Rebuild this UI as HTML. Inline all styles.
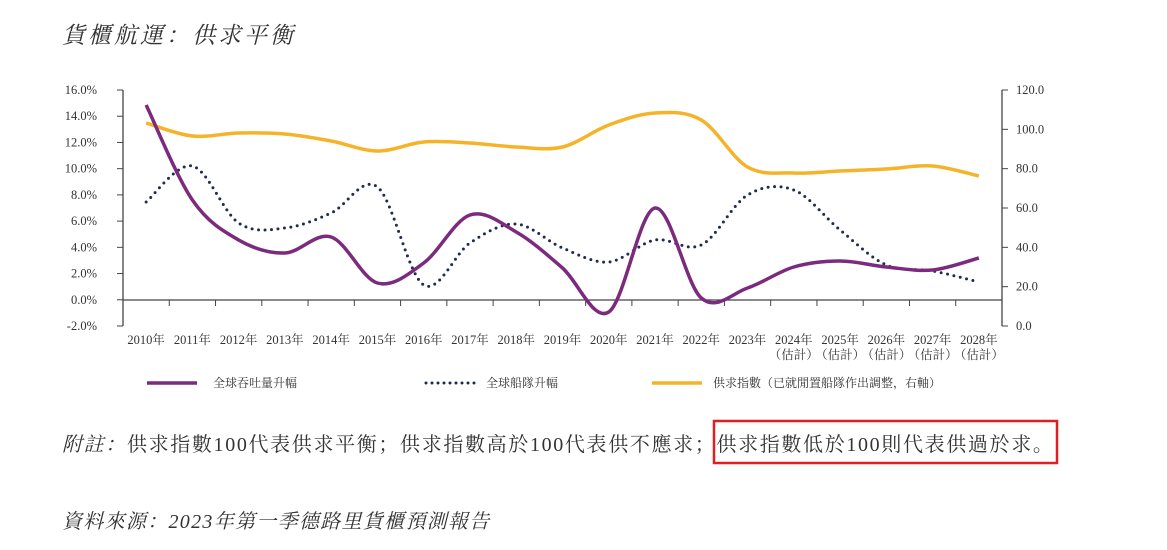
<!DOCTYPE html>
<html><head><meta charset="utf-8"><style>
html,body{margin:0;padding:0;background:#fff;}
body{width:1167px;height:550px;position:relative;overflow:hidden;font-family:"Liberation Serif","Noto Serif CJK SC",serif;color:#333;}
.t{position:absolute;white-space:nowrap;}
</style></head><body>
<div class="t" style="left:62px;top:17px;font-size:23px;letter-spacing:3px;font-style:italic;color:#333;">貨櫃航運：供求平衡</div>
<svg width="1167" height="550" style="position:absolute;left:0;top:0" xmlns="http://www.w3.org/2000/svg">
<g font-family="Liberation Serif, Noto Serif CJK SC, serif" font-size="12.5" fill="#333">
<line x1="123" y1="90" x2="123" y2="326" stroke="#444" stroke-width="1.3"/>
<line x1="1002" y1="90" x2="1002" y2="326" stroke="#444" stroke-width="1.3"/>
<line x1="123" y1="300" x2="1002" y2="300" stroke="#444" stroke-width="1.3"/>
<g id="ticks"></g>
<g id="lab"></g>
<path id="py" fill="none" stroke="#f5b32a" stroke-width="3.5"/>
<path id="pd" fill="none" stroke="#1d2b4f" stroke-width="3" stroke-dasharray="0 6.5" stroke-linecap="round"/>
<path id="pp" fill="none" stroke="#7b2a7e" stroke-width="3.5"/>
<line x1="147" y1="383" x2="197" y2="383" stroke="#7b2a7e" stroke-width="3.5"/>
<text x="213" y="387" font-size="12">全球吞吐量升幅</text>
<line x1="426" y1="383" x2="476" y2="383" stroke="#1d2b4f" stroke-width="3" stroke-dasharray="0 6" stroke-linecap="round"/>
<text x="486" y="387" font-size="12">全球船隊升幅</text>
<line x1="652" y1="383" x2="702" y2="383" stroke="#f5b32a" stroke-width="3.5"/>
<text x="713" y="387" font-size="12">供求指數（已就閒置船隊作出調整，右軸）</text>
</g>
<rect x="714" y="421" width="343" height="42" fill="none" stroke="#e02020" stroke-width="2.5"/>
</svg>
<div class="t" style="left:62px;top:428px;font-size:20px;letter-spacing:1.65px;color:#333;"><i>附註：</i>供求指數100代表供求平衡；供求指數高於100代表供不應求；供求指數低於100則代表供過於求。</div>
<div class="t" style="left:62px;top:505px;font-size:20px;letter-spacing:1.3px;font-style:italic;color:#333;">資料來源：2023年第一季德路里貨櫃預測報告</div>
<script>
var L=123,W=879/19,ns="http://www.w3.org/2000/svg";
function el(t,a,txt,p){var e=document.createElementNS(ns,t);for(var k in a)e.setAttribute(k,a[k]);if(txt)e.textContent=txt;document.getElementById(p).appendChild(e);}
var lt=["16.0%","14.0%","12.0%","10.0%","8.0%","6.0%","4.0%","2.0%","0.0%","-2.0%"];
for(var i=0;i<10;i++){var y=90+i*236/9;el("line",{x1:117,y1:y,x2:123,y2:y,stroke:"#444"},"","ticks");el("text",{x:97,y:y+4,"text-anchor":"end"},lt[i],"lab");}
for(var i=0;i<7;i++){var y=90+i*236/6;el("line",{x1:1002,y1:y,x2:1008,y2:y,stroke:"#444"},"","ticks");el("text",{x:1016,y:y+4},(120-20*i).toFixed(1),"lab");}
for(var i=1;i<19;i++){var x=L+W*i;el("line",{x1:x,y1:300,x2:x,y2:306,stroke:"#444"},"","ticks");}
for(var i=0;i<19;i++){var x=L+W*(i+0.5);el("text",{x:x,y:344,"text-anchor":"middle"},(2010+i)+"年","lab");if(i>=14)el("text",{x:x,y:359,"text-anchor":"middle"},"（估計）","lab");}
function path(ys){var p=ys.map(function(y,i){return [L+W*(i+0.5),y]});var d="M"+p[0][0]+","+p[0][1];
for(var i=0;i<p.length-1;i++){var a=p[Math.max(0,i-1)],b=p[i],c=p[i+1],e=p[Math.min(p.length-1,i+2)];
d+=" C"+(b[0]+(c[0]-a[0])/6)+","+(b[1]+(c[1]-a[1])/6)+" "+(c[0]-(e[0]-b[0])/6)+","+(c[1]-(e[1]-b[1])/6)+" "+c[0]+","+c[1];}return d;}
document.getElementById("pp").setAttribute("d",path([105,200,240,253,237,283,263,215,232,268,312,208,298,288,267,261,267,270,258]));
document.getElementById("pd").setAttribute("d",path([202,166,223,228,213,187,285,243,224,248,262,240,245,195,190,230,265,271,282]));
document.getElementById("py").setAttribute("d",path([123,136,133,134,141,151,142,143,147,147,125,113,120,167,173,171,169,166,176]));
</script>
</body></html>
